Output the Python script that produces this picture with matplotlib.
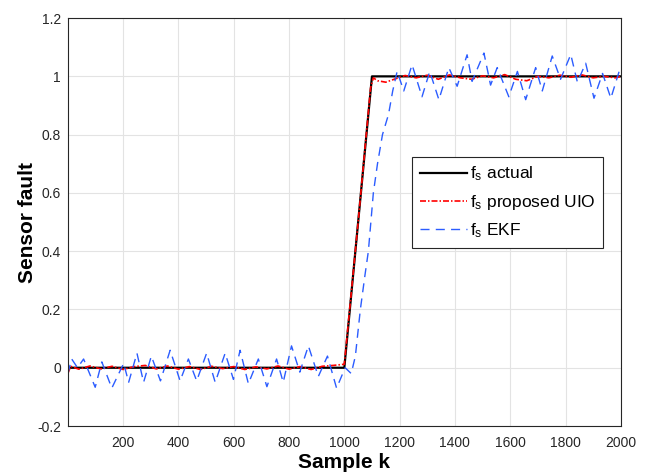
import matplotlib
matplotlib.use('Agg')
import matplotlib.pyplot as plt

plt.rcParams['font.family'] = ['Liberation Sans', 'DejaVu Sans']
plt.rcParams['mathtext.default'] = 'regular'

# actual sensor fault
k_actual = [0, 1000, 1100, 2000]
f_actual = [0, 0, 1, 1]

# proposed UIO estimate
k_uio = [0, 10, 40, 80, 120, 160, 200, 240, 280, 320, 360, 400, 440, 480, 520,
         560, 600, 640, 680, 720, 760, 800, 840, 880, 920, 960, 1000, 1050,
         1095, 1105, 1120, 1150, 1180, 1220, 1260, 1300, 1340, 1380, 1420,
         1460, 1500, 1540, 1580, 1620, 1660, 1700, 1740, 1780, 1820, 1860,
         1900, 1940, 1980, 2000]
f_uio = [-0.02, 0.005, -0.005, 0.006, -0.004, 0.005, -0.006, 0.004, 0.008,
         -0.004, 0.006, -0.005, 0.004, -0.006, 0.005, -0.003, 0.004, -0.006,
         0.003, -0.004, 0.006, -0.005, 0.004, -0.006, 0.005, 0.008, 0.012,
         0.5, 0.96, 0.995, 0.985, 0.98, 0.99, 1.003, 0.995, 1.004, 0.99,
         1.005, 0.995, 0.99, 1.002, 0.995, 1.006, 0.99, 0.985, 1.0, 0.995,
         1.004, 0.997, 1.005, 0.995, 1.0, 0.995, 1.0]

# EKF estimate
k_ekf = [0, 14, 35, 57, 99, 123, 159, 202, 220, 250, 274, 302, 335, 370, 406,
         436, 466, 502, 533, 569, 599, 623, 653, 689, 720, 755, 779, 809, 839,
         870, 906, 939, 972, 1003, 1025, 1040, 1058, 1075, 1087, 1105, 1120,
         1138, 1160, 1175, 1191, 1215, 1245, 1281, 1309, 1342, 1378, 1408,
         1444, 1462, 1505, 1529, 1553, 1595, 1626, 1656, 1692, 1716, 1752,
         1782, 1819, 1843, 1873, 1903, 1934, 1964, 1994, 2000]
f_ekf = [-0.02, 0.03, 0.0, 0.03, -0.067, 0.02, -0.07, 0.015, -0.05, 0.05,
         -0.05, 0.04, -0.045, 0.06, -0.045, 0.03, -0.045, 0.05, -0.05, 0.05,
         -0.04, 0.06, -0.055, 0.03, -0.065, 0.03, -0.05, 0.075, -0.015, 0.075,
         -0.03, 0.04, -0.07, 0.0, -0.02, 0.04, 0.2, 0.32, 0.4, 0.6, 0.7, 0.8,
         0.87, 0.95, 1.017, 0.95, 1.04, 0.93, 1.017, 0.92, 1.03, 0.966, 1.074,
         0.983, 1.08, 0.97, 1.03, 0.93, 1.017, 0.92, 1.03, 0.95, 1.07, 0.99,
         1.075, 0.98, 1.045, 0.925, 1.01, 0.925, 1.017, 1.01]

x_ticks = [200, 400, 600, 800, 1000, 1200, 1400, 1600, 1800, 2000]
y_ticks = [-0.2, 0, 0.2, 0.4, 0.6, 0.8, 1, 1.2]
y_tick_labels = ['-0.2', '0', '0.2', '0.4', '0.6', '0.8', '1', '1.2']

fig = plt.figure(figsize=(6.46, 4.76), dpi=100)
ax = fig.add_axes([0.105, 0.105, 0.856, 0.857])

ax.plot(k_actual, f_actual, color='black', lw=1.6, label='$f_s$ actual')
ax.plot(k_uio, f_uio, color='red', lw=1.2, dashes=(3.6, 1.2, 0.9, 1.2),
        label='$f_s$ proposed UIO')
ax.plot(k_ekf, f_ekf, color='#2b5cff', lw=1.0, dashes=(6.5, 4.5),
        label='$f_s$ EKF')

ax.set_xlim(0, 2000)
ax.set_ylim(-0.2, 1.2)
ax.set_xticks(x_ticks)
ax.set_yticks(y_ticks)
ax.set_yticklabels(y_tick_labels)
ax.tick_params(axis='both', length=0, labelsize=10, colors='#262626')
ax.tick_params(axis='x', pad=7)
ax.tick_params(axis='y', pad=5)
ax.grid(True, color='#e3e3e3', lw=0.8)
ax.set_axisbelow(True)
for s in ax.spines.values():
    s.set_color('#262626')
    s.set_linewidth(0.8)

ax.set_xlabel('Sample k', fontsize=15, fontweight='bold', labelpad=2)
ax.set_ylabel('Sensor fault', fontsize=15, fontweight='bold', labelpad=0)

leg = ax.legend(loc='upper left', bbox_to_anchor=(0.623, 0.66), fontsize=12.5,
                handlelength=2.7, handletextpad=0.15, borderpad=0.45,
                labelspacing=0.55, fancybox=False, framealpha=1,
                edgecolor='#262626', borderaxespad=0)
leg.get_frame().set_linewidth(0.8)

fig.savefig('out.png', dpi=100)
